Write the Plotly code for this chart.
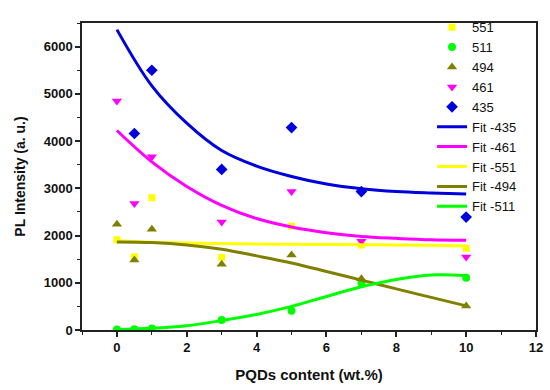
import plotly.graph_objects as go

# Measured data points
x_pts = [0, 0.5, 1, 3, 5, 7, 10]
y_551 = [1910, 1550, 2800, 1540, 2200, 1800, 1730]
y_511 = [10, 15, 30, 210, 410, 1000, 1105]
y_494 = [2240, 1480, 2135, 1390, 1590, 1085, 510]
y_461 = [4850, 2680, 3670, 2285, 2930, 1880, 1545]
x_435 = [0.5, 1, 3, 5, 7, 10]
y_435 = [4160, 5500, 3400, 4285, 2930, 2390]

# Fit curves
x_fit = [0, 1, 2, 3, 4, 5, 6, 7, 8, 9, 10]
fit_435 = [6360, 5170, 4380, 3800, 3470, 3250, 3090, 2990, 2930, 2900, 2880]
fit_461 = [4224, 3560, 3040, 2640, 2360, 2180, 2060, 1980, 1940, 1910, 1900]
fit_551 = [1890, 1860, 1840, 1830, 1820, 1815, 1810, 1805, 1800, 1795, 1780]
fit_494 = [1865, 1850, 1800, 1710, 1570, 1420, 1240, 1055, 870, 690, 510]
fit_511 = [10, 35, 90, 200, 330, 500, 710, 915, 1070, 1165, 1150]

C_Y = "#FFFF00"
C_G = "#00FF00"
C_O = "#808000"
C_M = "#FF00FF"
C_B = "#0000DD"

fig = go.Figure()

def pts(x, y, name, color, symbol, size):
    fig.add_trace(go.Scatter(x=x, y=y, mode="markers", name=name,
                             marker=dict(color=color, symbol=symbol, size=size,
                                         line=dict(width=0))))

def fit(y, name, color):
    fig.add_trace(go.Scatter(x=x_fit, y=y, mode="lines", name=name,
                             line=dict(color=color, width=3, shape="spline")))

pts(x_pts, y_551, "551", C_Y, "square", 7)
pts(x_pts, y_511, "511", C_G, "circle", 8)
pts(x_pts, y_494, "494", C_O, "triangle-up", 9)
pts(x_pts, y_461, "461", C_M, "triangle-down", 9)
pts(x_435, y_435, "435", C_B, "diamond", 9)
fit(fit_435, "Fit -435", C_B)
fit(fit_461, "Fit -461", C_M)
fit(fit_551, "Fit -551", C_Y)
fit(fit_494, "Fit -494", C_O)
fit(fit_511, "Fit -511", C_G)

axis_common = dict(showline=True, linecolor="#222222", linewidth=1.5, mirror=True,
                   ticks="outside", ticklen=5, tickwidth=1.5, tickcolor="#222222",
                   showgrid=False, zeroline=False, automargin=False,
                   tickfont=dict(family="Liberation Sans, Arial", size=13, color="#111111", weight="bold"))

fig.update_xaxes(range=[-1, 12], dtick=2, tick0=0,
                 minor=dict(ticks="outside", ticklen=3, dtick=1, tickcolor="#222222", tickwidth=1),
                 title=dict(text="<b>PQDs content (wt.%)</b>",
                            font=dict(family="Liberation Sans, Arial", size=15, color="#111111")),
                 **axis_common)
fig.update_yaxes(range=[0, 6500], dtick=1000, tick0=0,
                 minor=dict(ticks="outside", ticklen=3, dtick=500, tickcolor="#222222", tickwidth=1),
                 title=dict(text="<b>PL Intensity (a. u.)</b>",
                            font=dict(family="Liberation Sans, Arial", size=14, color="#111111")),
                 **axis_common)

fig.update_layout(
    width=550, height=390,
    margin=dict(l=82, r=14, t=12, b=60),
    paper_bgcolor="white", plot_bgcolor="white",
    showlegend=True,
    legend=dict(x=0.771, y=1.035, xanchor="left", yanchor="top",
                bgcolor="rgba(0,0,0,0)", borderwidth=0, maxheight=330,
                font=dict(family="Liberation Sans, Arial", size=13, color="#111111"),
                tracegroupgap=0, itemwidth=30),
)

fig.write_html("out.html", config={"displayModeBar": False},
               post_script="document.body.style.margin='0';document.body.style.overflow='hidden';")
